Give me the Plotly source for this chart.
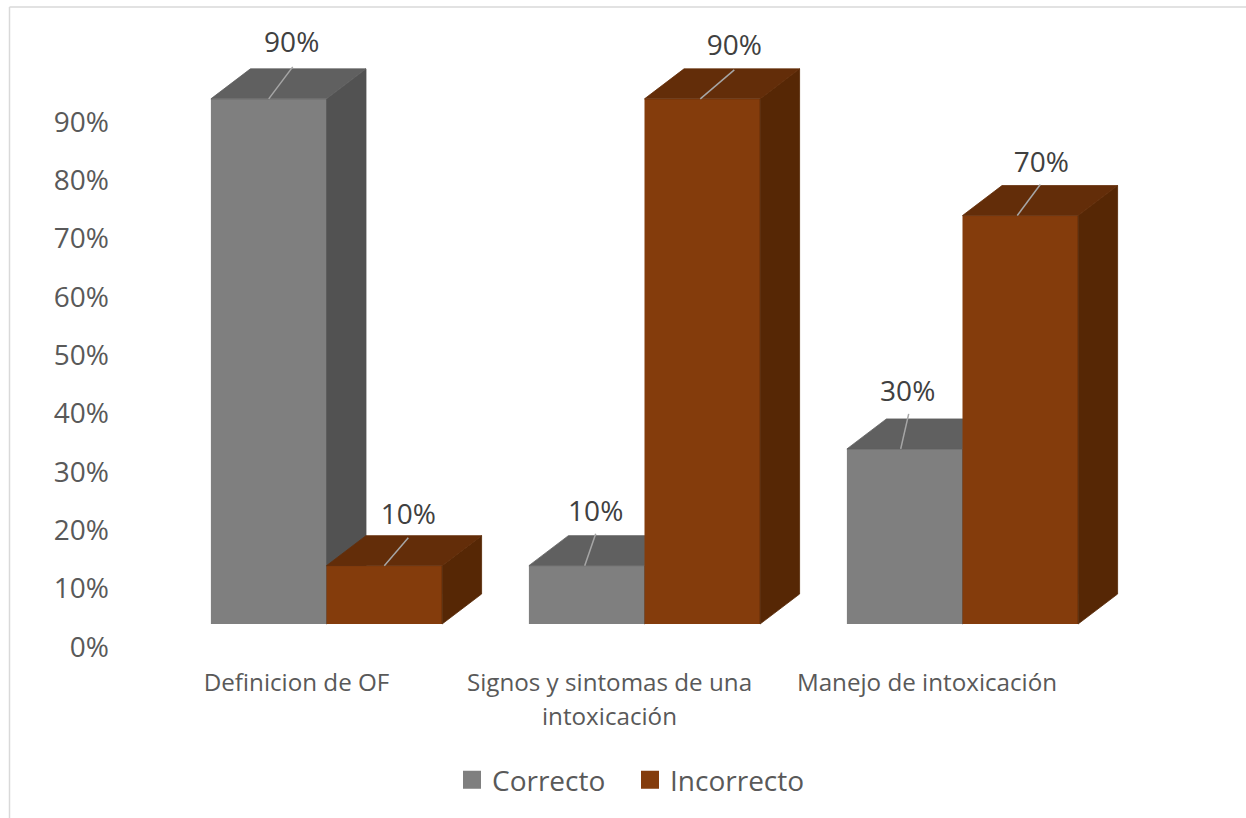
import plotly.graph_objects as go

# ---- data ----
categories = ["Definicion de OF", "Signos y sintomas de una", "Manejo de intoxicación"]
category_second_lines = ["", "intoxicación", ""]
correcto = [0.90, 0.10, 0.30]
incorrecto = [0.10, 0.90, 0.70]
tick_values = [0, .1, .2, .3, .4, .5, .6, .7, .8, .9]
tick_labels = ["0%", "10%", "20%", "30%", "40%", "50%", "60%", "70%", "80%", "90%"]

# ---- geometry / style ----
W, H = 1246, 818
PX_X = 318.0      # pixels per category
PX_Y = 583.5      # pixels per 100 %
X0_PX = 326.5     # pixel of first category centre
Y0_PX = 624.0     # pixel of the bars' base
BAR_W = 115.6 / PX_X
DX = 39.5 / PX_X
DY = 30 / PX_Y
TICK_SHIFT_Y = 23 / PX_Y
cat_shift = [30 / PX_X, 35 / PX_X, 35.5 / PX_X]
GREY = dict(front="#7f7f7f", top="#606060", side="#525252")
BROWN = dict(front="#843c0c", top="#632d09", side="#562705")
FONT = "Open Sans, sans-serif"
AX_COL = "#595959"
LAB_COL = "#404040"
TICK_FS = 28
CAT_FS = 24.2

# pixel offsets of leader lines and data labels, from each bar's top centre
lead_start = {"c": [0, -2, -4], "i": [0, -2, -3]}
lead_end = {"c": [(24, 32), (9, 32), (4, 35)], "i": [(24, 28), (32, 29), (20, 31)]}
label_off = {"c": [(23, 53.5), (9, 51.5), (3, 54.5)], "i": [(24, 48.5), (32, 50.5), (21, 51)]}

fig = go.Figure()
xs = list(range(len(categories)))


def add_series(name, values, colors, offset, xa, ya, key):
    fig.add_trace(go.Bar(x=xs, y=values, width=BAR_W, offset=offset,
                         marker=dict(color=colors["front"], line=dict(width=0)),
                         name=name, showlegend=False, hoverinfo="skip", xaxis=xa, yaxis=ya))
    for i, v in zip(xs, values):
        x0 = i + offset
        x1 = x0 + BAR_W
        fig.add_trace(go.Scatter(x=[x1, x1 + DX, x1 + DX, x1, x1], y=[0, DY, v + DY, v, 0],
                                 fill="toself", fillcolor=colors["side"], mode="lines",
                                 line=dict(color=colors["side"], width=0.8),
                                 showlegend=False, hoverinfo="skip", xaxis=xa, yaxis=ya))
        fig.add_trace(go.Scatter(x=[x0, x1, x1 + DX, x0 + DX, x0], y=[v, v, v + DY, v + DY, v],
                                 fill="toself", fillcolor=colors["top"], mode="lines",
                                 line=dict(color=colors["top"], width=0.8),
                                 showlegend=False, hoverinfo="skip", xaxis=xa, yaxis=ya))
    # legend proxy (bigger square swatch than a bar trace gives)
    fig.add_trace(go.Scatter(x=[None], y=[None], mode="markers", name=name,
                             marker=dict(symbol="square", size=16, color=colors["front"],
                                         line=dict(width=2, color=colors["front"])),
                             xaxis=xa, yaxis=ya))


def add_labels(values, offset, key):
    for i, v in zip(xs, values):
        cx = i + offset + BAR_W / 2
        ex, ey = lead_end[key][i]
        fig.add_trace(go.Scatter(x=[cx + lead_start[key][i] / PX_X, cx + ex / PX_X],
                                 y=[v, v + ey / PX_Y], mode="lines",
                                 line=dict(color="#a6a6a6", width=1.5),
                                 showlegend=False, hoverinfo="skip", xaxis="x2", yaxis="y2"))
        lx, ly = label_off[key][i]
        fig.add_trace(go.Scatter(x=[cx + lx / PX_X], y=[v + ly / PX_Y], mode="text",
                                 text=[f"{v:.0%}"], textposition="middle center",
                                 textfont=dict(family=FONT, size=TICK_FS, color=LAB_COL),
                                 showlegend=False, hoverinfo="skip", xaxis="x2", yaxis="y2"))


add_series("Correcto", correcto, GREY, -BAR_W, "x", "y", "c")
add_series("Incorrecto", incorrecto, BROWN, 0.0, "x2", "y2", "i")
add_labels(correcto, -BAR_W, "c")
add_labels(incorrecto, 0.0, "i")

xr = [-X0_PX / PX_X, (W - X0_PX) / PX_X]
yr = [-(H - Y0_PX) / PX_Y, Y0_PX / PX_Y]
blank = dict(showgrid=False, zeroline=False, showline=False, ticks="")
ax_font = dict(family=FONT, size=CAT_FS, color=AX_COL)

for i, t in enumerate(category_second_lines):
    if t:
        fig.add_annotation(x=i - cat_shift[i], y=1 - 715 / H, xref="x", yref="paper", text=t,
                           showarrow=False, font=ax_font, xanchor="center", yanchor="middle")

fig.update_layout(
    width=W, height=H, autosize=False,
    margin=dict(l=0, r=0, t=0, b=0),
    paper_bgcolor="white", plot_bgcolor="rgba(0,0,0,0)",
    barmode="overlay",
    font=dict(family=FONT, color=AX_COL),
    xaxis=dict(range=xr, domain=[0, 1], anchor="free", position=1 - 666 / H,
               tickvals=[i - s for i, s in zip(xs, cat_shift)], ticktext=categories,
               tickfont=ax_font, tickangle=0, **blank),
    yaxis=dict(range=yr, domain=[0, 1], anchor="free", position=109 / W, side="left",
               tickvals=[t - TICK_SHIFT_Y for t in tick_values], ticktext=tick_labels,
               tickfont=dict(family=FONT, size=TICK_FS, color=AX_COL), **blank),
    xaxis2=dict(range=xr, overlaying="x", anchor="y2", visible=False),
    yaxis2=dict(range=yr, overlaying="y", anchor="x2", visible=False),
    legend=dict(orientation="h", x=452 / W, y=1 - 780 / H, xanchor="left", yanchor="middle",
                font=dict(family=FONT, size=28, color=AX_COL),
                entrywidth=133, entrywidthmode="pixels", bgcolor="rgba(0,0,0,0)",
                traceorder="normal", itemclick=False),
    shapes=[
        dict(type="line", xref="paper", yref="paper", x0=9.5 / W, x1=9.5 / W, y0=0, y1=1 - 7 / H,
             line=dict(color="#d9d9d9", width=1.5)),
        dict(type="line", xref="paper", yref="paper", x0=9.5 / W, x1=1, y0=1 - 7 / H, y1=1 - 7 / H,
             line=dict(color="#d9d9d9", width=1.5)),
    ],
)

fig.write_html("out.html", config=dict(displayModeBar=False),
               post_script="document.body.style.margin='0';")
